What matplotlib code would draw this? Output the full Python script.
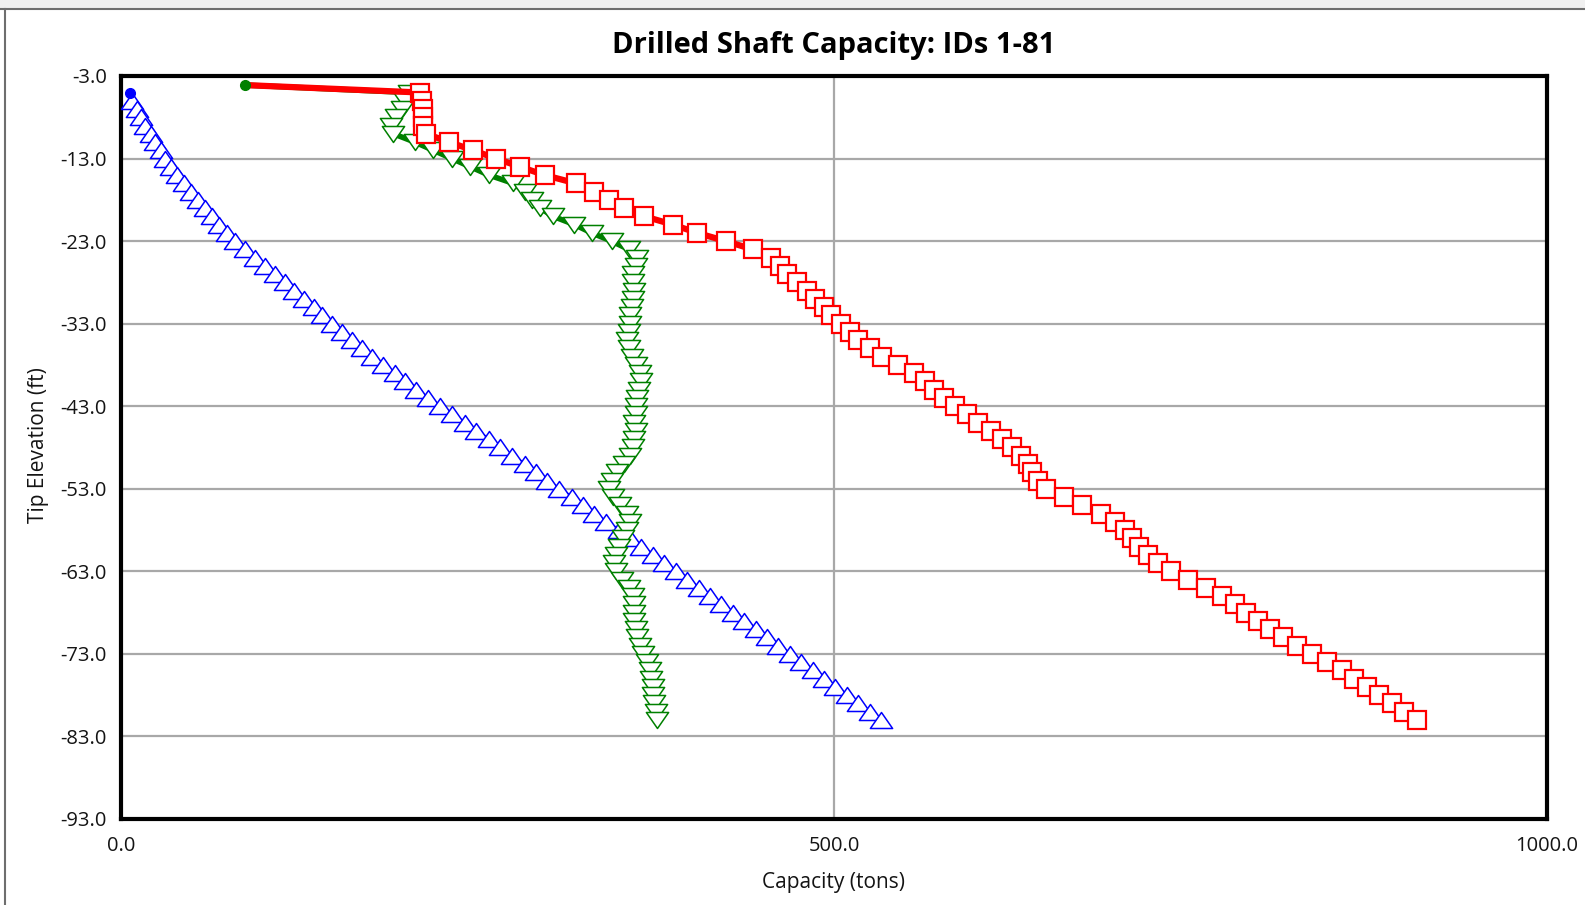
import numpy as np
import matplotlib
matplotlib.use("Agg")
import matplotlib.pyplot as plt
from matplotlib.path import Path
from matplotlib.patches import Rectangle
from matplotlib.lines import Line2D

# Tip elevations (ft) for each shaft ID
elev = [-4.1, -5, -6, -7, -8, -9, -10, -11, -12, -13,
        -14, -15, -16, -17, -18, -19, -20, -21, -22, -23,
        -24, -25, -26, -27, -28, -29, -30, -31, -32, -33,
        -34, -35, -36, -37, -38, -39, -40, -41, -42, -43,
        -44, -45, -46, -47, -48, -49, -50, -51, -52, -53,
        -54, -55, -56, -57, -58, -59, -60, -61, -62, -63,
        -64, -65, -66, -67, -68, -69, -70, -71, -72, -73,
        -74, -75, -76, -77, -78, -79, -80, -81]

# side resistance (blue), tons
side_cap = [np.nan, 6, 8, 11, 14, 17, 21, 24, 28, 31,
            35, 39, 44, 49, 54, 59, 64, 69, 74, 80,
            87, 94, 101, 108, 115, 121, 128, 135, 141, 148,
            155, 162, 169, 176, 184, 192, 199, 207, 215, 224,
            232, 241, 249, 258, 266, 274, 283, 291, 299, 307,
            316, 324, 332, 340, 349, 357, 365, 373, 381, 389,
            397, 405, 413, 421, 429, 437, 445, 453, 461, 469,
            477, 485, 493, 501, 509, 517, 525, 533]

# end bearing (green), tons
tip_cap = [87, 202, 199, 197, 193, 189, 191, 206, 219, 232,
           245, 258, 275, 283, 288, 294, 303, 318, 330, 344,
           356, 362, 361, 359, 359, 360, 359, 358, 357, 357,
           356, 355, 356, 358, 361, 364, 365, 363, 362, 361,
           361, 360, 361, 360, 359, 357, 353, 348, 344, 342,
           345, 350, 355, 357, 355, 352, 349, 347, 346, 347,
           351, 356, 359, 360, 360, 360, 361, 362, 364, 366,
           369, 371, 372, 373, 373, 374, 375, 376]

# total capacity (red), tons
total_cap = [87, 210, 211, 212, 212, 212, 214, 230, 247, 263,
             280, 297, 319, 332, 342, 353, 367, 387, 404, 424,
             443, 456, 462, 467, 474, 481, 487, 493, 498, 505,
             511, 517, 525, 534, 545, 556, 564, 570, 577, 585,
             593, 601, 610, 618, 625, 631, 636, 639, 643, 649,
             661, 674, 687, 697, 704, 709, 714, 720, 727, 736,
             748, 761, 772, 781, 789, 797, 806, 815, 825, 835,
             846, 856, 865, 874, 882, 891, 900, 909]

y_ticks = [-93, -83, -73, -63, -53, -43, -33, -23, -13, -3]
x_ticks = [0, 500, 1000]

font = "Open Sans"
txt = "#141414"

# flattened triangles like the original chart
up_verts = [(-1, -0.72), (1, -0.72), (0, 0.72), (-1, -0.72)]
dn_verts = [(-1, 0.72), (1, 0.72), (0, -0.72), (-1, 0.72)]
tri_up = Path(up_verts, closed=True)
tri_dn = Path(dn_verts, closed=True)

fig = plt.figure(figsize=(15.85, 9.05), dpi=100)
fig.patch.set_facecolor("white")

# window frame bits
fig.add_artist(Rectangle((0, 1 - 8 / 905), 1, 8 / 905, transform=fig.transFigure,
                         facecolor="#f0f0f0", edgecolor="none"))
fig.add_artist(Line2D([0, 1], [1 - 9 / 905, 1 - 9 / 905], transform=fig.transFigure,
                      color="#6e6e6e", lw=1.5))
fig.add_artist(Line2D([5 / 1585, 5 / 1585], [0, 1 - 9 / 905], transform=fig.transFigure,
                      color="#6e6e6e", lw=1.5))

ax = fig.add_axes([121 / 1585, 86 / 905, 1426 / 1585, 743 / 905])

# blue: side
ax.plot(side_cap, elev, color="blue", lw=2.5, marker=tri_up, markersize=16,
        markerfacecolor="white", markeredgecolor="blue", markeredgewidth=1.1,
        markevery=slice(2, None), zorder=3)
ax.plot(side_cap[1], elev[1], "o", color="blue", markersize=7, zorder=4)

# green: tip
ax.plot(tip_cap, elev, color="green", lw=4, marker=tri_dn, markersize=16,
        markerfacecolor="white", markeredgecolor="green", markeredgewidth=1.1,
        markevery=slice(1, None), zorder=4)

# red: total
ax.plot(total_cap, elev, color="red", lw=4.5, marker="s", markersize=13.5,
        markerfacecolor="white", markeredgecolor="red", markeredgewidth=1.6,
        markevery=slice(1, None), zorder=5)
ax.plot(tip_cap[0], elev[0], "o", color="green", markersize=7, zorder=6)

ax.set_xlim(0, 1000)
ax.set_ylim(-93, -3)
ax.set_xticks(x_ticks)
ax.set_xticklabels([f"{v:.1f}" for v in x_ticks])
ax.set_yticks(y_ticks)
ax.set_yticklabels([f"{v:.1f}" for v in y_ticks])
ax.tick_params(length=0, labelsize=14.5, labelcolor=txt)
ax.tick_params(axis="x", pad=12)
ax.tick_params(axis="y", pad=10)
for lab in ax.get_xticklabels() + ax.get_yticklabels():
    lab.set_fontfamily(font)

ax.grid(True, color="#a8a8a8", lw=1.6)
ax.set_axisbelow(True)
for sp in ax.spines.values():
    sp.set_linewidth(3)
    sp.set_color("black")

fig.text(834 / 1585, 1 - 45 / 905, "Drilled Shaft Capacity: IDs 1-81", ha="center", va="center",
         fontsize=21, fontweight="bold", family=font, color="black")
fig.text(834 / 1585, 1 - 882 / 905, "Capacity (tons)", ha="center", va="center",
         fontsize=15, family=font, color=txt)
fig.text(39 / 1585, 1 - 445 / 905, "Tip Elevation (ft)", ha="center", va="center",
         rotation=90, fontsize=15, family=font, color=txt)

fig.savefig("out.png", dpi=100)
